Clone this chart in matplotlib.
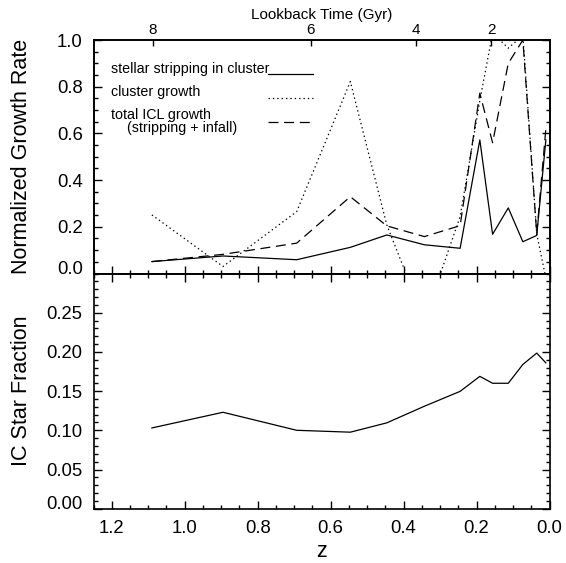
import numpy as np
import matplotlib
matplotlib.use('Agg')
import matplotlib.pyplot as plt
from matplotlib.ticker import MultipleLocator, FormatStrFormatter, FixedLocator, NullLocator
from matplotlib.transforms import ScaledTranslation

plt.rcParams['font.family'] = ['Liberation Sans', 'DejaVu Sans']

# ---------------- data ----------------
z = [1.09, 0.895, 0.693, 0.546, 0.446, 0.343, 0.245, 0.191, 0.156, 0.113, 0.073, 0.035, 0.010]
stripping = [0.051, 0.075, 0.059, 0.112, 0.165, 0.123, 0.108, 0.572, 0.168, 0.281, 0.136, 0.163, 0.572]
cluster_growth = [0.251, 0.030, 0.265, 0.822, 0.208, -0.20, 0.244, 0.74, 1.03, 0.965, 1.02, 0.17, -0.02]
icl_growth = [0.051, 0.082, 0.130, 0.329, 0.204, 0.158, 0.205, 0.772, 0.560, 0.90, 1.0, 0.17, 0.62]
ic_fraction = [0.103, 0.123, 0.100, 0.0976, 0.1095, 0.1307, 0.1497, 0.1688, 0.160, 0.160, 0.184, 0.1985, 0.186]

legend_labels = ['stellar stripping in cluster', 'cluster growth',
                 'total ICL growth', '  (stripping + infall)']
lookback_z = [1.087, 0.654, 0.365, 0.159]          # redshift of the lookback-time ticks
lookback_labels = ['8', '6', '4', '2']
growth_ticks = [0.0, 0.2, 0.4, 0.6, 0.8, 1.0]
frac_ticks = [0.00, 0.05, 0.10, 0.15, 0.20, 0.25]
z_ticks = [1.2, 1.0, 0.8, 0.6, 0.4, 0.2, 0.0]

W, H = 566, 563
fig = plt.figure(figsize=(W / 100, H / 100), dpi=100)
L, R = 93.5, 549.5
ax1 = fig.add_axes([L / W, 1 - 273.5 / H, (R - L) / W, 233.5 / H])
ax2 = fig.add_axes([L / W, 1 - 508.7 / H, (R - L) / W, 235.2 / H])

lw = 0.9
l1, = ax1.plot(z, stripping, color='black', lw=lw, ls='-')
l2, = ax1.plot(z, cluster_growth, color='black', lw=lw, ls=(0, (1.1, 2.4)))
l3, = ax1.plot(z, icl_growth, color='black', lw=lw, ls=(0, (8, 4.5)))
ax2.plot(z, ic_fraction, color='black', lw=lw)

for ax in (ax1, ax2):
    ax.set_xlim(1.25, 0.0)
    ax.xaxis.set_major_locator(FixedLocator(z_ticks))
    ax.xaxis.set_minor_locator(MultipleLocator(0.05))
    for s in ax.spines.values():
        s.set_linewidth(1.2)

ax1.set_ylim(0, 1.0)
ax1.yaxis.set_major_locator(FixedLocator(growth_ticks))
ax1.yaxis.set_minor_locator(MultipleLocator(0.05))
ax1.yaxis.set_major_formatter(FormatStrFormatter('%.1f'))

ax2.set_ylim(0, 0.30)
ax2.yaxis.set_major_locator(FixedLocator(frac_ticks))
ax2.yaxis.set_minor_locator(MultipleLocator(0.01))
ax2.yaxis.set_major_formatter(FormatStrFormatter('%.2f'))
ax2.xaxis.set_major_formatter(FormatStrFormatter('%.1f'))

# top axis: lookback time
axt = ax1.twiny()
axt.set_xlim(1.25, 0.0)
axt.set_xticks(lookback_z)
axt.set_xticklabels(lookback_labels)
axt.xaxis.set_minor_locator(NullLocator())
axt.tick_params(axis='x', direction='in', length=4.5, width=1.0, pad=2.5, labelsize=11)
axt.set_xlabel('Lookback Time (Gyr)', fontsize=11)
axt.xaxis.set_label_coords(0.5, 1.09)
for s in axt.spines.values():
    s.set_linewidth(1.2)

ax1.tick_params(which='both', direction='in', top=False, bottom=True, left=True, right=True,
                labelbottom=False, labelleft=True, labelsize=13.3, width=1.0, pad=7.8)
ax1.tick_params(which='major', length=6)
ax1.tick_params(which='minor', length=3)

ax2.tick_params(which='both', direction='in', top=True, bottom=True, left=True, right=True,
                labelbottom=True, labelleft=True, labelsize=13.3, width=1.0, pad=7.8)
ax2.tick_params(which='major', length=6)
ax2.tick_params(which='minor', length=3)

ax1.set_ylabel('Normalized Growth Rate', fontsize=15.5, va='center')
ax1.yaxis.set_label_coords(-0.158, 0.5)
ax2.set_ylabel('IC Star Fraction', fontsize=15.5, va='center')
ax2.yaxis.set_label_coords(-0.158, 0.5)
ax2.set_xlabel('z', fontsize=15.5)
ax2.xaxis.set_label_coords(0.5, -0.138)

# legend: left-aligned texts, keys in a column to their right
leg_fs = 10.3
text_x = [0.0384, 0.0384, 0.0384, 0.0566]
text_y = [0.8574, 0.7589, 0.6638, 0.6060]
for lab, tx, ty in zip(legend_labels, text_x, text_y):
    ax1.text(tx, ty, lab, transform=ax1.transAxes, fontsize=leg_fs, va='baseline', ha='left')
ax1.legend(handles=[l1, l2, l3], labels=['', '', ''], loc='upper left',
           bbox_to_anchor=(0.3833, 0.8805), frameon=False, fontsize=leg_fs,
           handlelength=3.1, handletextpad=0.0, labelspacing=0.72,
           borderpad=0, borderaxespad=0)

fig.canvas.draw()
off = ScaledTranslation(0, 0.065, fig.dpi_scale_trans)
for ax in (ax1, ax2):
    t0 = ax.yaxis.get_major_ticks()[0]
    t0.label1.set_transform(t0.label1.get_transform() + off)

fig.savefig('out.png', dpi=100)
